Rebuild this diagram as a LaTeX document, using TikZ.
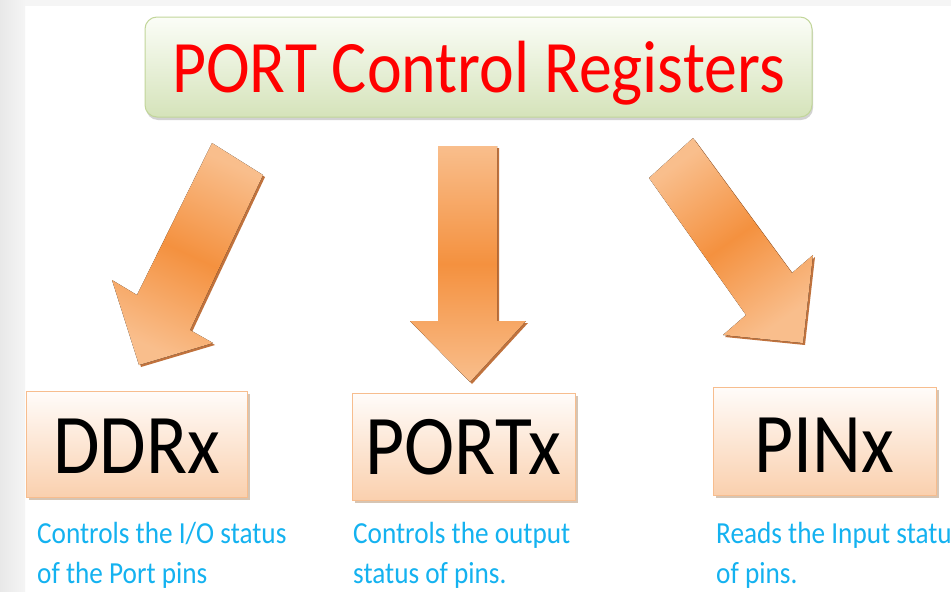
\documentclass[tikz,border=0pt]{standalone}
\usepackage{fontspec}
\setmainfont{Carlito}
\newfontfamily\cf[FakeStretch=0.89]{Carlito}
\usetikzlibrary{shadows}
\definecolor{titletop}{HTML}{FBFDF7}
\definecolor{titlebot}{HTML}{D5E3BA}
\definecolor{titleedge}{HTML}{C2D69A}
\definecolor{peachtop}{HTML}{FFFCFA}
\definecolor{peachbot}{HTML}{FAD0AE}
\definecolor{peachedge}{HTML}{F7BD8E}
\definecolor{arrlight}{HTML}{F9BE8C}
\definecolor{arrdark}{HTML}{F4913F}
\definecolor{arrshadow}{HTML}{B65A1C}
\definecolor{desc}{HTML}{14B2F0}
\definecolor{titlered}{HTML}{FF0000}
\tikzset{
  titlebox/.style={rounded corners=12pt, draw=titleedge, line width=1pt,
    top color=titletop, bottom color=titlebot, inner sep=0pt,
    drop shadow={shadow xshift=1pt, shadow yshift=-3pt, opacity=0.35, fill=gray},
    font=\cf\fontsize{74}{80}\selectfont, text=titlered},
  regbox/.style={draw=peachedge, line width=1pt, top color=peachtop, bottom color=peachbot,
    inner sep=0pt, minimum width=222pt, minimum height=107pt, text depth=0pt,
    drop shadow={shadow xshift=3pt, shadow yshift=-3pt, opacity=0.45, fill=brown!60!gray},
    font=\cf\fontsize{85}{90}\selectfont},
  desctext/.style={anchor=base west, inner sep=0pt, text=desc,
    font=\cf\fontsize{30.6}{40}\selectfont},
  bigarrow/.style={top color=arrlight, bottom color=arrlight, middle color=arrdark},
  arrowshade/.style={fill=arrshadow, opacity=0.85}
}
\begin{document}
\begin{tikzpicture}[x=1pt,y=-1pt]
\useasboundingbox (0,0) rectangle (951,592);
\fill[white] (0,0) rectangle (951,592);
\fill[left color=black!9, right color=black!4] (0,0) rectangle (25,592);
\fill[black!4] (25,0) rectangle (951,6);

% title
\node[titlebox, minimum width=667pt, minimum height=100pt, text height=50pt, text depth=0pt]
  (title) at (478.5,67) {PORT Control Registers};

% arrows
\fill[arrowshade, shift={(2,2)}] (212,143) -- (263,175) -- (190,330) -- (213,343) -- (139,365) -- (112,280) -- (137,295) -- cycle;
\fill[bigarrow, shading angle=-25] (212,143) -- (263,175) -- (190,330) -- (213,343) -- (139,365) -- (112,280) -- (137,295) -- cycle;

\fill[arrowshade, shift={(2,2)}] (438,146) -- (497,146) -- (497,321) -- (526,321) -- (470,382) -- (410,321) -- (438,321) -- cycle;
\fill[bigarrow] (438,146) -- (497,146) -- (497,321) -- (526,321) -- (470,382) -- (410,321) -- (438,321) -- cycle;

\fill[arrowshade, shift={(2,2)}] (693,138) -- (792,273) -- (813,255) -- (803,343) -- (723,335) -- (746,315) -- (649,178) -- cycle;
\fill[bigarrow, shading angle=35] (693,138) -- (792,273) -- (813,255) -- (803,343) -- (723,335) -- (746,315) -- (649,178) -- cycle;

% register boxes
\node[regbox, minimum width=221pt, minimum height=106pt, text height=58pt] (ddr) at (136.5,444) {DDRx};
\node[regbox, minimum width=223pt, minimum height=107pt, text height=55pt] (port) at (463.5,446.5) {PORTx};
\node[regbox, minimum width=223pt, minimum height=108pt, text height=62pt] (pin) at (824.5,441) {PINx};

% descriptions
\node[desctext] (d1a) at (37,543) {Controls the I/O status};
\node[desctext] (d1b) at (37,583) {of the Port pins};
\node[desctext] (d2a) at (353,543) {Controls the output};
\node[desctext] (d2b) at (353,583) {status of pins.};
\node[desctext] (d3a) at (716,543) {Reads the Input status};
\node[desctext] (d3b) at (716,583) {of pins.};
\end{tikzpicture}
\end{document}
